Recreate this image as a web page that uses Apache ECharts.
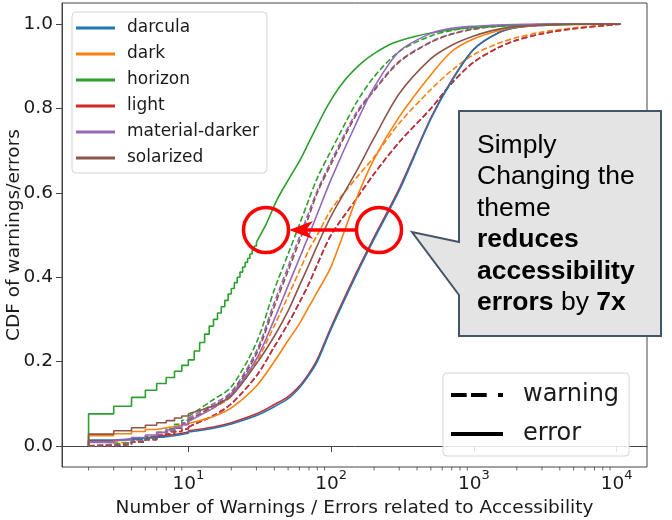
<!DOCTYPE html>
<html><head><meta charset="utf-8">
<script src="https://cdn.jsdelivr.net/npm/echarts@6.0.0/dist/echarts.min.js"></script>
<style>html,body{margin:0;padding:0;background:#fff}#chart{width:672px;height:520px}</style>
</head><body><div id="chart"></div>
<script>
// ---------- data ----------
const themes = ['darcula', 'dark', 'horizon', 'light', 'material-darker', 'solarized'];
const themeColors = ['#1f77b4', '#ff7f0e', '#2ca02c', '#d62728', '#9467bd', '#8c564b'];
const kinds = ['warning', 'error'];
const yTickValues = [0, 0.2, 0.4, 0.6, 0.8, 1.0];
const xTickValues = [10, 100, 1000, 10000];

const xLow = [2, 2, 3, 4, 5, 6, 7, 8, 9, 10];
const xHigh = [10, 15, 20, 30, 40, 50, 60, 70, 80, 100, 150, 200, 300, 500, 700, 1000, 1500, 2000, 3000, 5000, 10650];
const xLowHorizonError = [2, 2, 3, 4, 5, 6, 7, 8, 9, 10, 11, 12, 13, 14, 15, 16, 17, 18, 19, 20, 21, 22, 23, 24, 25, 26, 27, 28, 29, 30];
const xHighHorizonError = [30, 35, 42, 50, 60, 70, 94, 120, 160, 200, 273, 400, 500, 800, 1500, 3000, 10650];

const darculaWarnLow = [0, 0, 0.004, 0.009, 0.015, 0.021, 0.028, 0.034, 0.04, 0.045];
const darculaWarnHigh = [0.045, 0.072, 0.1, 0.166, 0.235, 0.29, 0.34, 0.385, 0.43, 0.5, 0.585, 0.645, 0.72, 0.8, 0.86, 0.91, 0.945, 0.962, 0.977, 0.989, 1.0];
const darculaErrLow = [0, 0.014, 0.016, 0.018, 0.02, 0.022, 0.024, 0.027, 0.03, 0.033];
const darculaErrHigh = [0.033, 0.042, 0.052, 0.072, 0.093, 0.112, 0.138, 0.168, 0.2, 0.277, 0.405, 0.49, 0.605, 0.775, 0.865, 0.94, 0.98, 0.992, 0.997, 1.0, 1.0];

const darkWarnLow = [0, 0.003, 0.008, 0.014, 0.02, 0.027, 0.035, 0.044, 0.053, 0.063];
const darkWarnHigh = [0.063, 0.09, 0.118, 0.2, 0.285, 0.355, 0.415, 0.465, 0.5, 0.56, 0.635, 0.685, 0.765, 0.845, 0.89, 0.928, 0.955, 0.968, 0.981, 0.991, 1.0];
const darkErrLow = [0, 0.024, 0.029, 0.034, 0.039, 0.043, 0.046, 0.049, 0.051, 0.053];
const darkErrHigh = [0.053, 0.07, 0.09, 0.142, 0.2, 0.25, 0.29, 0.33, 0.365, 0.425, 0.585, 0.68, 0.78, 0.88, 0.935, 0.965, 0.985, 0.993, 0.998, 1.0, 1.0];

const horizonWarnLow = [0, 0.004, 0.008, 0.015, 0.023, 0.032, 0.041, 0.051, 0.061, 0.07];
const horizonWarnHigh = [0.07, 0.11, 0.14, 0.245, 0.37, 0.455, 0.525, 0.585, 0.635, 0.7, 0.813, 0.875, 0.935, 0.972, 0.985, 0.993, 0.997, 0.998, 0.999, 1.0, 1.0];
const horizonErrLow = [0, 0.076, 0.094, 0.115, 0.132, 0.148, 0.162, 0.177, 0.191, 0.204, 0.225, 0.245, 0.265, 0.284, 0.3, 0.315, 0.33, 0.345, 0.36, 0.373, 0.387, 0.4, 0.412, 0.424, 0.435, 0.445, 0.455, 0.465, 0.474, 0.483];
const horizonErrHigh = [0.483, 0.525, 0.585, 0.63, 0.675, 0.72, 0.805, 0.86, 0.905, 0.93, 0.955, 0.972, 0.979, 0.989, 0.995, 0.998, 1.0];

const lightWarnLow = [0, 0, 0.004, 0.009, 0.015, 0.021, 0.028, 0.034, 0.04, 0.045];
const lightWarnHigh = [0.045, 0.072, 0.1, 0.166, 0.235, 0.29, 0.34, 0.385, 0.43, 0.5, 0.585, 0.645, 0.72, 0.8, 0.86, 0.91, 0.945, 0.962, 0.977, 0.989, 1.0];
const lightErrLow = [0, 0.012, 0.016, 0.019, 0.022, 0.025, 0.027, 0.03, 0.033, 0.036];
const lightErrHigh = [0.036, 0.045, 0.055, 0.076, 0.098, 0.117, 0.142, 0.172, 0.205, 0.282, 0.41, 0.495, 0.61, 0.778, 0.867, 0.941, 0.98, 0.992, 0.997, 1.0, 1.0];

const materialWarnLow = [0, 0.002, 0.006, 0.012, 0.019, 0.027, 0.036, 0.045, 0.055, 0.065];
const materialWarnHigh = [0.065, 0.1, 0.128, 0.225, 0.34, 0.425, 0.495, 0.555, 0.605, 0.675, 0.79, 0.845, 0.912, 0.958, 0.977, 0.989, 0.995, 0.997, 0.999, 1.0, 1.0];
const materialErrLow = [0, 0.008, 0.014, 0.02, 0.026, 0.032, 0.038, 0.044, 0.051, 0.058];
const materialErrHigh = [0.058, 0.09, 0.122, 0.206, 0.3, 0.38, 0.445, 0.5, 0.55, 0.632, 0.765, 0.85, 0.935, 0.978, 0.99, 0.995, 0.998, 0.999, 1.0, 1.0, 1.0];

const solarizedWarnLow = [0, 0.001, 0.004, 0.009, 0.016, 0.024, 0.033, 0.042, 0.051, 0.06];
const solarizedWarnHigh = [0.06, 0.095, 0.124, 0.218, 0.33, 0.415, 0.485, 0.545, 0.6, 0.668, 0.785, 0.842, 0.91, 0.957, 0.976, 0.988, 0.995, 0.997, 0.999, 1.0, 1.0];
const solarizedErrLow = [0, 0.028, 0.036, 0.043, 0.049, 0.055, 0.06, 0.066, 0.071, 0.076];
const solarizedErrHigh = [0.076, 0.095, 0.118, 0.195, 0.26, 0.32, 0.38, 0.43, 0.475, 0.545, 0.65, 0.73, 0.835, 0.918, 0.95, 0.972, 0.988, 0.994, 0.998, 1.0, 1.0];

const minorTickValues = [];
for (const d of [1, 10, 100, 1000]) for (let m = 2; m <= 9; m++) minorTickValues.push(m * d);

// ---------- chart ----------
const X_MIN = 1.303, X_MAX = 16330, Y_MIN = -0.05, Y_MAX = 1.05;
const FONT = 'DejaVu Sans';
const INK = '#1a1a1a';
const CALLOUT_FONT = '"Liberation Sans", Arial, sans-serif';

function colorOf(t) { return themeColors[themes.indexOf(t)]; }
function pairs(xs, ys) { return xs.map((x, i) => [x, ys[i]]); }
function curve(theme, kind, xl, yl, xh, yh) {
  const color = colorOf(theme);
  const ls = { color: color, width: 1.6, type: kind === 'warning' ? [6, 2.6] : 'solid' };
  const base = { type: 'line', name: theme, symbol: 'none', showSymbol: false, silent: true, animation: false,
    lineStyle: ls, itemStyle: { color: color }, emphasis: { disabled: true } };
  return [
    Object.assign({}, base, { data: pairs(xl, yl), step: 'end' }),
    Object.assign({}, base, { data: pairs(xh, yh), smooth: 0.3 })
  ];
}

const series = [].concat(
  curve('darcula', 'warning', xLow, darculaWarnLow, xHigh, darculaWarnHigh),
  curve('dark', 'warning', xLow, darkWarnLow, xHigh, darkWarnHigh),
  curve('horizon', 'warning', xLow, horizonWarnLow, xHigh, horizonWarnHigh),
  curve('light', 'warning', xLow, lightWarnLow, xHigh, lightWarnHigh),
  curve('material-darker', 'warning', xLow, materialWarnLow, xHigh, materialWarnHigh),
  curve('solarized', 'warning', xLow, solarizedWarnLow, xHigh, solarizedWarnHigh),
  curve('light', 'error', xLow, lightErrLow, xHigh, lightErrHigh),
  curve('darcula', 'error', xLow, darculaErrLow, xHigh, darculaErrHigh),
  curve('dark', 'error', xLow, darkErrLow, xHigh, darkErrHigh),
  curve('horizon', 'error', xLowHorizonError, horizonErrLow, xHighHorizonError, horizonErrHigh),
  curve('material-darker', 'error', xLow, materialErrLow, xHigh, materialErrHigh),
  curve('solarized', 'error', xLow, solarizedErrLow, xHigh, solarizedErrHigh)
);
series.push({ type: 'line', name: 'warning', data: [], symbol: 'none', lineStyle: { color: '#000', width: 4, type: [14.8, 6.4] }, itemStyle: { color: '#000' } });
series.push({ type: 'line', name: 'error', data: [], symbol: 'none', lineStyle: { color: '#000', width: 4, type: 'solid' }, itemStyle: { color: '#000' } });
series.push({ type: 'scatter', name: 'minor', silent: true, animation: false, clip: false,
  data: minorTickValues.map(v => [v, Y_MIN]), symbol: 'rect', symbolSize: [1, 3.5], symbolOffset: [0, 1.75],
  itemStyle: { color: '#444' }, z: 1 });

const legend1Data = themes.map(t => ({ name: t, icon: 'rect' }));
const legend2Data = [
  { name: 'warning', icon: 'path://M0,0h15.7v4h-15.7z M20,0h15.7v4h-15.7z M47,0h5v4h-5z' },
  { name: 'error', icon: 'rect' }
];

const chart = echarts.init(document.getElementById('chart'), null, { renderer: 'canvas' });
chart.setOption({
  animation: false,
  backgroundColor: '#fff',
  textStyle: { fontFamily: FONT },
  grid: { left: 62, right: 25, top: 3, bottom: 53, show: true, borderColor: '#444', borderWidth: 1, outerBoundsMode: 'none', containLabel: false },
  xAxis: {
    type: 'log', logBase: 10, min: X_MIN, max: X_MAX,
    name: 'Number of Warnings / Errors related to Accessibility', nameLocation: 'middle', nameGap: 30,
    nameTextStyle: { fontSize: 18.5, color: INK, fontFamily: FONT },
    axisLine: { show: true, lineStyle: { color: '#444', width: 1 } },
    axisTick: { show: true, length: 6, lineStyle: { color: '#444' }, customValues: xTickValues },
    axisLabel: { customValues: xTickValues, margin: 2,
      formatter: v => '{b|10}{s|' + Math.round(Math.log10(v)) + '}',
      rich: { b: { fontSize: 18.5, lineHeight: 30, color: INK, fontFamily: FONT },
              s: { fontSize: 13, lineHeight: 12, verticalAlign: 'top', color: INK, fontFamily: FONT } } },
    splitLine: { show: false }, minorTick: { show: false }
  },
  yAxis: {
    type: 'value', min: Y_MIN, max: Y_MAX,
    name: 'CDF of warnings/errors', nameLocation: 'middle', nameGap: 38, nameRotate: 90, nameMoveOverlap: false,
    nameTextStyle: { fontSize: 18.5, color: INK, fontFamily: FONT },
    axisLine: { show: true, lineStyle: { color: '#444', width: 1 } },
    axisTick: { show: true, length: 6, lineStyle: { color: '#444' }, customValues: yTickValues },
    axisLabel: { customValues: yTickValues, margin: 9, fontSize: 18.5, color: INK, fontFamily: FONT,
      formatter: v => v.toFixed(1) },
    splitLine: { show: false }
  },
  legend: [
    { data: legend1Data, orient: 'vertical', left: 72, top: 12, padding: [6, 8, 5, 4], itemGap: 6,
      itemWidth: 39, itemHeight: 3, selectedMode: false,
      textStyle: { fontSize: 17, lineHeight: 20, color: INK, fontFamily: FONT, padding: [0, 0, 0, 7] },
      backgroundColor: 'rgba(255,255,255,0.85)', borderColor: '#d5d5d5', borderWidth: 1, borderRadius: 4 },
    { data: legend2Data, orient: 'vertical', left: 443, top: 373, padding: [8, 10, 8, 8], itemGap: 11,
      itemWidth: 52, itemHeight: 4, selectedMode: false,
      textStyle: { fontSize: 24, lineHeight: 28, color: INK, fontFamily: FONT, padding: [0, 0, 0, 15] },
      backgroundColor: 'rgba(255,255,255,0.85)', borderColor: '#d5d5d5', borderWidth: 1, borderRadius: 4 }
  ],
  series: series,
  graphic: [
    { type: 'polygon', z: 100, shape: { points: [[459, 111], [661, 111], [661, 336], [459, 336], [459, 295], [412, 232], [459, 242]] },
      style: { fill: '#e4e4e4', stroke: '#44546a', lineWidth: 2 } },
    { type: 'text', z: 101, left: 477, top: 130,
      style: { text: 'Simply\nChanging the\ntheme\n{b|reduces}\n{b|accessibility}\n{b|errors} by {b|7x}',
        font: '26.5px ' + CALLOUT_FONT, fill: '#000', lineHeight: 31.4,
        rich: { b: { fontWeight: 'bold', fontSize: 26.5, fontFamily: CALLOUT_FONT, lineHeight: 31.4, fill: '#000' } } } },
    { type: 'circle', z: 100, shape: { cx: 266, cy: 230, r: 22.5 }, style: { fill: 'none', stroke: '#ff0000', lineWidth: 3.5 } },
    { type: 'circle', z: 100, shape: { cx: 379, cy: 230, r: 22.5 }, style: { fill: 'none', stroke: '#ff0000', lineWidth: 3.5 } },
    { type: 'line', z: 100, shape: { x1: 357, y1: 230, x2: 304, y2: 230 }, style: { stroke: '#ff0000', lineWidth: 3.5 } },
    { type: 'polygon', z: 100, shape: { points: [[289, 230], [313, 221], [306, 230], [313, 239]] }, style: { fill: '#ff0000' } }
  ]
});
</script></body></html>
